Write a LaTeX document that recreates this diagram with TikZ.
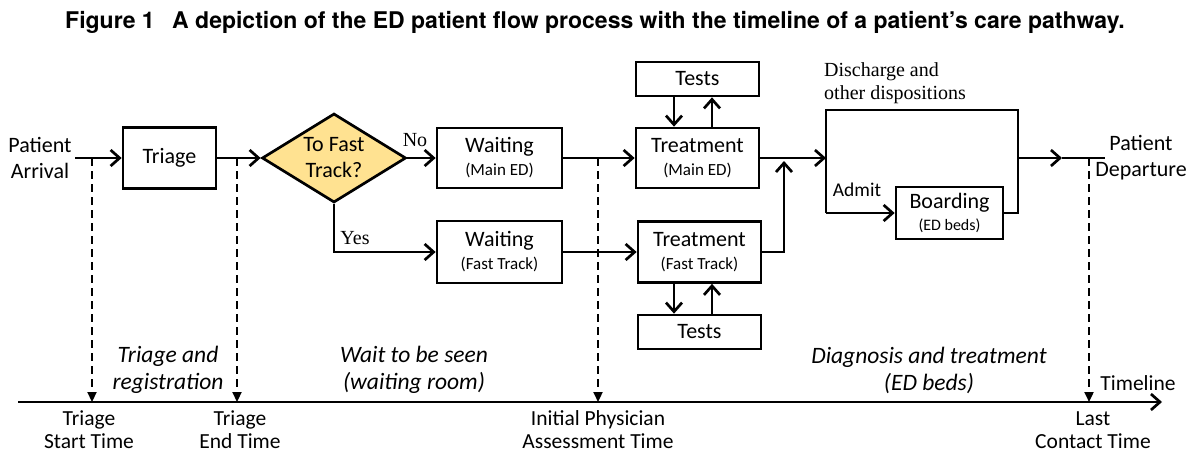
\documentclass[tikz,border=0pt]{standalone}
\usepackage{fontspec}
\setmainfont{Carlito}
\newfontfamily\serifrm{Liberation Serif}
\newfontfamily\titlefont{TeX Gyre Heros}
\usetikzlibrary{arrows.meta,shapes.geometric}

\definecolor{ftyellow}{RGB}{255,226,145}
\newcommand{\smalltxt}[1]{{\fontsize{17}{19}\selectfont #1}}

\begin{document}
\begin{tikzpicture}[x=1pt,y=-1pt,
    every node/.style={font=\fontsize{22}{26}\selectfont, align=center},
    box/.style={draw, line width=2.7pt, inner sep=0pt},
    flow/.style={line width=2.7pt, -{Straight Barb[length=9pt,width=16pt]}},
    plain/.style={line width=2.7pt},
    timemark/.style={line width=2.2pt, dash pattern=on 8pt off 5pt, -{Triangle[length=10pt,width=9pt]}},
    period/.style={font=\itshape\fontsize{23.5}{27}\selectfont},
    stamp/.style={font=\fontsize{21.5}{23}\selectfont},
    remark/.style={font=\serifrm\fontsize{20}{23}\selectfont, align=left},
    heading/.style={anchor=west, inner sep=0pt, font=\titlefont\bfseries\fontsize{23}{26}\selectfont},
]
    % параметры
    \def\yM{158}    % главная линия потока
    \def\yT{402}    % ось времени

    \useasboundingbox (0,0) rectangle (1190,453);

    % заголовок
    \node[heading] (fignum) at (65,22) {Figure 1};
    \node[heading] (caption) at (172,22)
        {A depiction of the ED patient flow process with the timeline of a patient’s care pathway.};

    % блоки
    \node (arrival) at (40,\yM) {Patient\\Arrival};
    \node[box, minimum width=93pt, minimum height=61pt] (triage) at (169.5,\yM) {Triage};
    \node[diamond, draw, fill=ftyellow, line width=2.7pt, inner sep=0pt, aspect=1.62,
        minimum width=144pt, minimum height=89pt] (fast) at (334,\yM) {To Fast\\Track?};
    \node[box, minimum width=125pt, minimum height=60pt] (waitM) at (499.5,\yM) {Waiting\\[-3pt]\smalltxt{(Main ED)}};
    \node[box, minimum width=125pt, minimum height=62pt] (waitF) at (499.5,252) {Waiting\\[-3pt]\smalltxt{(Fast Track)}};
    \node[box, minimum width=123pt, minimum height=60pt] (treatM) at (697.5,\yM) {Treatment\\[-3pt]\smalltxt{(Main ED)}};
    \node[box, minimum width=123pt, minimum height=61pt] (treatF) at (699.5,252) {Treatment\\[-3pt]\smalltxt{(Fast Track)}};
    \node[box, minimum width=123pt, minimum height=34pt] (testsM) at (697.5,79) {Tests};
    \node[box, minimum width=123pt, minimum height=34pt] (testsF) at (699.5,332) {Tests};
    \node[box, minimum width=107pt, minimum height=52pt] (board) at (949.5,213)
        {Boarding\\[-4pt]{\fontsize{16}{18}\selectfont (ED beds)}};
    \node (depart) at (1141,\yM) {Patient\\Departure};

    % подписи
    \node[remark] (no) at (415,140) {No};
    \node[remark] (yes) at (355,238) {Yes};
    \node[remark, anchor=south west, inner sep=0pt] (disch) at (824,104) {Discharge and\\other dispositions};
    \node[font=\fontsize{19.5}{22}\selectfont] (admit) at (857,190) {Admit};

    % узлы линий
    \coordinate (dispTL) at (826,110);
    \coordinate (dispTR) at (1018,110);
    \coordinate (dispBL) at (826,213);
    \coordinate (dispBR) at (1018,213);
    \coordinate (dispIn) at (826,\yM);
    \coordinate (dispOut) at (1018,\yM);
    \coordinate (outTip) at (1062,\yM);
    \coordinate (outEnd) at (1105,\yM);
    \coordinate (join) at (784,161);

    % стрелки потока
    \draw[flow] (arrival.east) -- (triage);
    \draw[flow] (triage) -- (fast);
    \draw[flow] (fast.east) -- (waitM.west);
    \draw[flow] (fast.south) |- (waitF.west);
    \draw[flow] (waitM) -- (treatM);
    \draw[flow] (waitF) -- (treatF);
    \draw[flow] (treatM) -- (dispIn);
    \draw[flow] (treatF.east) -| (join);

    % анализы
    \draw[flow] ([xshift=-23.5pt]testsM.south) -- ([xshift=-23.5pt]testsM.south |- treatM.north);
    \draw[flow] ([xshift=14.5pt]treatM.north) -- ([xshift=14.5pt]treatM.north |- testsM.south);
    \draw[flow] ([xshift=-25.5pt]treatF.south) -- ([xshift=-25.5pt]treatF.south |- testsF.north);
    \draw[flow] ([xshift=12.5pt]testsF.north) -- ([xshift=12.5pt]testsF.north |- treatF.south);

    % выписка и госпитализация
    \draw[plain] (dispBL) -- (dispTL) -- (dispTR) -- (dispBR) -- (board.east);
    \draw[flow] (dispBL) -- (board.west);
    \draw[flow] (dispOut) -- (outTip);
    \draw[plain] (outTip) -- (outEnd);

    % ось времени
    \coordinate (tlStart) at (18,\yT);
    \coordinate (tlEnd) at (1162,\yT);
    \draw[flow] (tlStart) -- (tlEnd);
    \node[stamp] (tlname) at (1138,383) {Timeline};

    \foreach \x/\nm in {92/tA, 237/tB, 598/tC, 1089/tD}{
        \coordinate (\nm) at (\x,\yM);
        \draw[timemark] (\nm) -- (\nm |- tlStart);
    }

    \node[stamp] (stA) at (89,430) {Triage\\Start Time};
    \node[stamp] (stB) at (240,430) {Triage\\End Time};
    \node[stamp] (stC) at (598,430) {Initial Physician\\Assessment Time};
    \node[stamp] (stD) at (1093,430) {Last\\Contact Time};

    \node[period] (prA) at (168,370) {Triage and\\registration};
    \node[period] (prB) at (414,370) {Wait to be seen\\(waiting room)};
    \node[period] (prC) at (929,370) {Diagnosis and treatment\\(ED beds)};
\end{tikzpicture}
\end{document}
